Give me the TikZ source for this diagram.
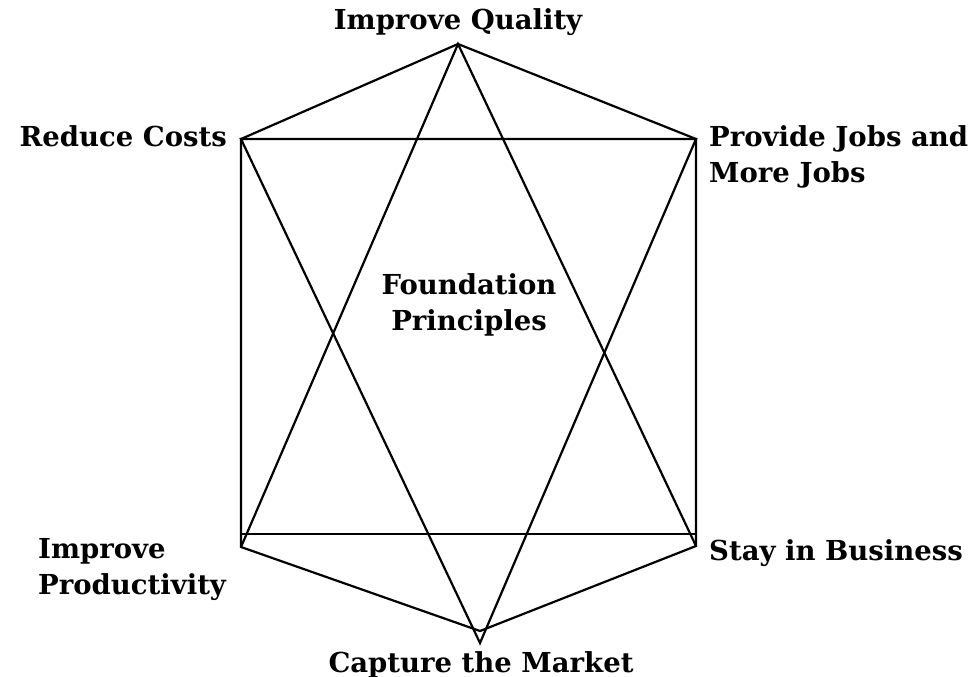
\documentclass[tikz,border=0pt]{standalone}
\usepackage{fontspec}
\setmainfont{DejaVu Serif}
\usetikzlibrary{positioning}

\begin{document}
\begin{tikzpicture}[
    x=1pt, y=-1pt,
    edge/.style={draw=black, line width=2.2pt},
    label/.style={font=\fontsize{27.5}{36}\selectfont\bfseries, inner sep=0pt}
]
\useasboundingbox (0,0) rectangle (977,677);

% Corners
\coordinate (top) at (458,44);
\coordinate (ul) at (241,139);
\coordinate (ur) at (696,139);
\coordinate (ll) at (241,547);
\coordinate (lr) at (696,546);
\coordinate (bot) at (480,631);
\coordinate (apex) at (480,643);
\coordinate (bl) at (241,534);
\coordinate (br) at (696,534);

% Hexagon
\draw[edge] (top) -- (ur) -- (lr) -- (bot) -- (ll) -- (ul) -- cycle;

% Upward triangle
\draw[edge] (ll) -- (top) -- (lr);
\draw[edge] (bl) -- (br);

% Downward triangle
\draw[edge] (ul) -- (ur) -- (apex) -- cycle;

% Labels
\node[label, anchor=base] (quality) at (458,30) {Improve Quality};
\node[label, anchor=base east] (costs) at (227,146) {Reduce Costs};
\node[label, anchor=base west, align=left] (jobs) at (709,182) {Provide Jobs and\\More Jobs};
\node[label, anchor=base, align=center] (found) at (469,330) {Foundation\\Principles};
\node[label, anchor=base west, align=left] (prod) at (38,594) {Improve\\Productivity};
\node[label, anchor=base west] (business) at (709,560) {Stay in Business};
\node[label, anchor=base] (market) at (481,672) {Capture the Market};

\end{tikzpicture}
\end{document}
